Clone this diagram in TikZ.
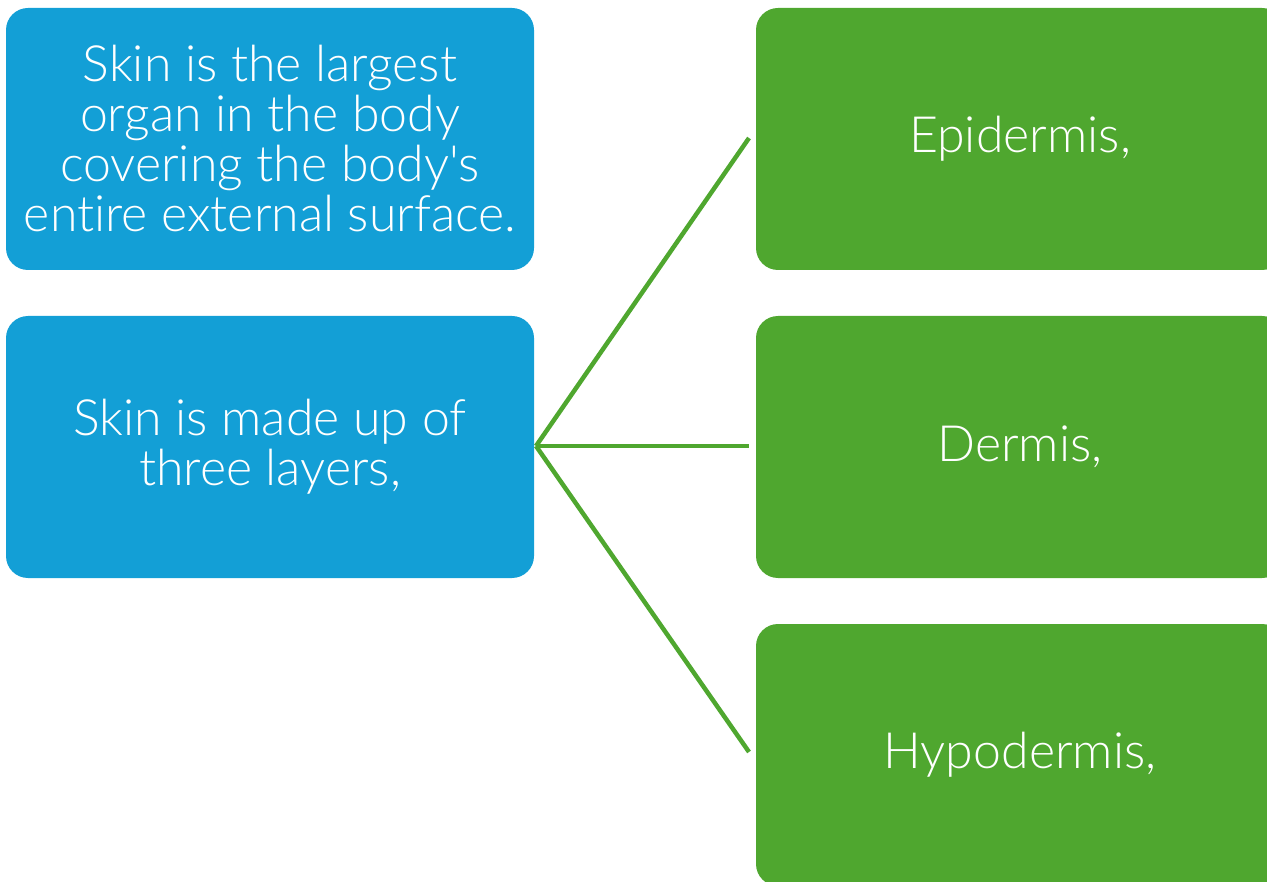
\documentclass[tikz,border=0pt]{standalone}
\usepackage{fontspec}
\newfontfamily\latolight{Lato}[UprightFont=* Light, Ligatures={NoCommon}]
\definecolor{skinblue}{HTML}{139FD6}
\definecolor{skingreen}{HTML}{4FA72F}
\begin{document}
\begin{tikzpicture}[x=1pt,y=-1pt,
  box/.style={rounded corners=22pt, minimum width=528pt, minimum height=262pt,
    inner sep=0pt, text=white, align=center, font=\latolight\fontsize{50}{50}\selectfont},
  bluebox/.style={box, fill=skinblue},
  greenbox/.style={box, fill=skingreen},
  link/.style={draw=skingreen, line width=4.5pt}]
\useasboundingbox (0,0) rectangle (1267,882);
\clip (0,0) rectangle (1267,882);
\node[bluebox] (top) at (270,139) {Skin is the largest\\organ in the body\\covering the body's\\entire external surface.};
\node[bluebox] (mid) at (270,447) {Skin is made up of\\three layers,};
\node[greenbox] (epi) at (1020,139) {Epidermis,};
\node[greenbox] (der) at (1020,447) {Dermis,};
\node[greenbox] (hyp) at (1020,755) {Hypodermis,};
\coordinate (hub) at (536,446);
\coordinate (e1) at (749,138);
\coordinate (e2) at (749,446);
\coordinate (e3) at (749,752);
\draw[link] (hub) -- (e1);
\draw[link] (hub) -- (e2);
\draw[link] (hub) -- (e3);
\end{tikzpicture}
\end{document}
